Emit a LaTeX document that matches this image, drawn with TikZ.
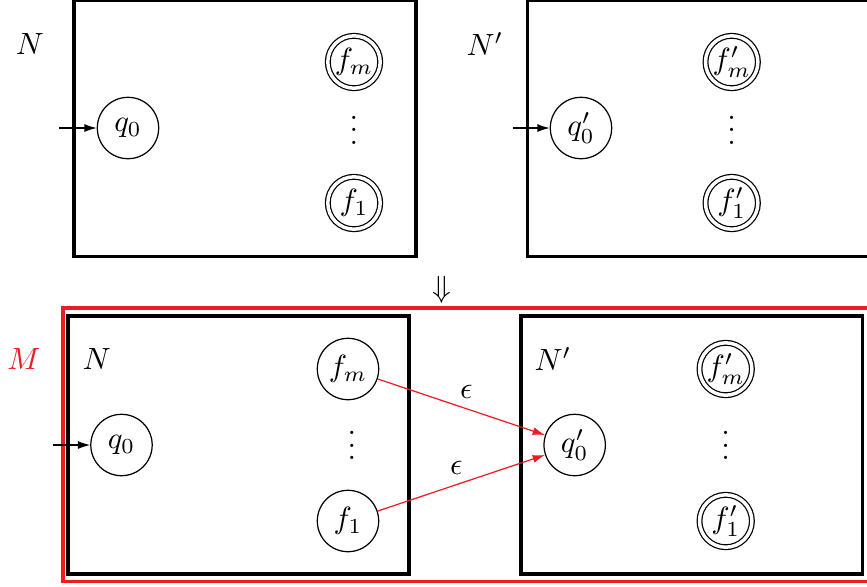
\documentclass[tikz,border=0pt]{standalone}
\usetikzlibrary{arrows.meta}
\definecolor{mred}{RGB}{237,28,36}
\begin{document}
\begin{tikzpicture}[x=0.3257pt,y=-0.3257pt,
  state/.style={circle,draw,line width=0.4pt,minimum size=20pt,inner sep=0pt},
  accept/.style={circle,draw,line width=0.4pt,double,double distance=1.13pt,minimum size=17.07pt,inner sep=0pt},
  frame/.style={draw,line width=1pt},
  initarrow/.style={-{Latex[length=4pt,width=2.6pt]},line width=0.4pt},
  epsarrow/.style={-{Latex[length=4pt,width=2.6pt]},line width=0.4pt,draw=mred},
  lbl/.style={inner sep=0pt},
  epslbl/.style={inner sep=0pt,text=black},
  dotsnode/.style={anchor=base,inner sep=0pt}]
\useasboundingbox (0,0) rectangle (867,586);
\begin{scope}
\clip (0,0) rectangle (867,586);

% upper automaton N
\node[lbl] (lN) at (30,44) {$N$};
\draw[frame] (74,0) rectangle (416,256.7);
\node[state] (q0) at (128,128) {$q_0$};
\node[accept] (fm) at (354,62) {$f_m$};
\node[dotsnode] (dA) at (354,144) {$\vdots$};
\node[accept] (f1) at (354,203) {$f_1$};
\coordinate (iA) at (59,128);
\draw[initarrow] (iA) -- (q0);

% upper automaton N'
\node[lbl] (lNp) at (485,44) {$N'$};
\draw[frame] (527.7,0) rectangle (900,256.7);
\node[state] (q0p) at (581,128) {$q_0'$};
\node[accept] (fmp) at (731.7,62) {$f_m'$};
\node[dotsnode] (dB) at (731.7,144) {$\vdots$};
\node[accept] (f1p) at (731.7,203) {$f_1'$};
\coordinate (iB) at (513,128);
\draw[initarrow] (iB) -- (q0p);

% implication
\node[lbl] (imp) at (441.7,290) {$\Downarrow$};

% combined automaton M
\draw[draw=mred,line width=1pt] (63,308) rectangle (900,581.7);
\node[lbl,text=mred] (lM) at (24,359) {$M$};

\draw[frame] (68,316) rectangle (409,574);
\node[lbl] (lN2) at (97,359) {$N$};
\node[state] (r0) at (121.5,445) {$q_0$};
\node[state] (rm) at (348,369) {$f_m$};
\node[dotsnode] (dC) at (352,459.5) {$\vdots$};
\node[state] (r1) at (348,521) {$f_1$};
\coordinate (iC) at (53,445);
\draw[initarrow] (iC) -- (r0);

\draw[frame] (521,316) rectangle (862.7,574);
\node[lbl] (lNp2) at (553,359) {$N'$};
\node[state] (s0) at (574.7,445) {$q_0'$};
\node[accept] (sm) at (725.7,369) {$f_m'$};
\node[dotsnode] (dD) at (725.7,459.5) {$\vdots$};
\node[accept] (s1) at (725.7,521) {$f_1'$};

\draw[epsarrow] (rm) -- node[midway,epslbl,yshift=4.8pt,xshift=1.6pt] {$\epsilon$} (s0);
\draw[epsarrow] (r1) -- node[midway,epslbl,yshift=4.8pt,xshift=-1.6pt] {$\epsilon$} (s0);
\end{scope}
\end{tikzpicture}
\end{document}
